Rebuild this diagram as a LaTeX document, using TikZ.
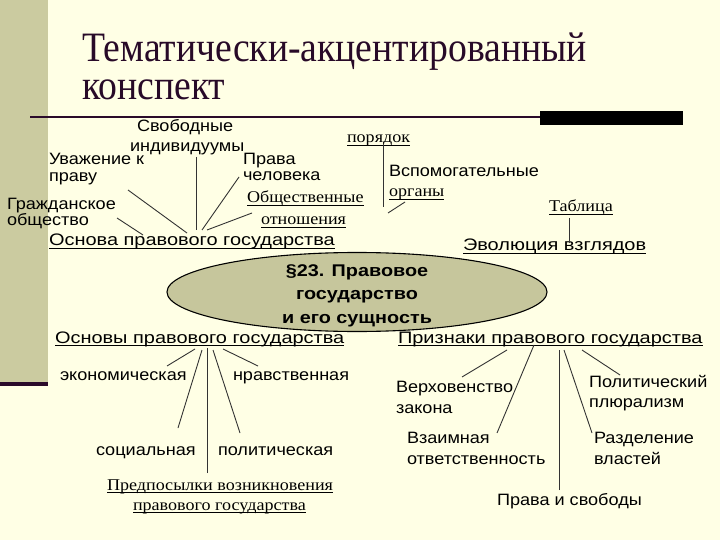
\documentclass[tikz,border=0pt]{standalone}
\usepackage{fontspec}
\setmainfont{Liberation Serif}
\setsansfont{Liberation Sans}
\newfontfamily\hsans[FakeStretch=1.2]{Liberation Sans}
\newfontfamily\lsans[FakeStretch=1.1]{Liberation Sans}
\newfontfamily\bsans[FakeStretch=1.17]{Liberation Sans}
\newfontfamily\rserif[FakeStretch=1.1]{Liberation Serif}
\newfontfamily\tserif[FakeStretch=0.9]{Liberation Serif}
\usetikzlibrary{shapes.geometric}
\definecolor{bgc}{RGB}{255,255,229}
\definecolor{barc}{RGB}{203,203,160}
\definecolor{darkc}{RGB}{42,10,42}
\definecolor{ellc}{RGB}{198,198,156}
\definecolor{titlec}{RGB}{40,10,40}
\begin{document}
\begin{tikzpicture}[x=1bp,y=-1bp,
  sl/.style={font=\lsans\fontsize{16.5}{19}\selectfont, anchor=base west, inner sep=0pt, outer sep=0pt},
  hl/.style={font=\hsans\fontsize{16.7}{19}\selectfont, anchor=base west, inner sep=0pt, outer sep=0pt},
  rl/.style={font=\rserif\fontsize{16.5}{19}\selectfont, anchor=base west, inner sep=0pt, outer sep=0pt},
  tl/.style={font=\tserif\fontsize{42}{42}\selectfont, text=titlec, anchor=base west, inner sep=0pt},
  ul/.style={append after command={([yshift=-2.8bp]\tikzlastnode.base west) edge[line width=1.3bp] ([yshift=-2.8bp]\tikzlastnode.base east)}},
  conn/.style={draw=black!80, line width=0.9bp}]
\useasboundingbox (0,0) rectangle (720,540);
\fill[bgc] (0,0) rectangle (720,540);
\fill[barc] (0,0) rectangle (48,382);
\fill[darkc] (0,382) rectangle (48,386);
\fill[darkc] (30,116) rectangle (540,118.5);
\fill[black] (540,111) rectangle (683,125.5);
% title
\node[tl] (t1) at (82,62) {Тематически-акцентированный};
\node[tl] (t2) at (82,100) {конспект};
% hub
\node[draw=black, line width=1.1bp, fill=ellc, ellipse, minimum width=380bp, minimum height=79bp, inner sep=0pt] (hub) at (357,292) {};
\node[font=\bsans\bfseries\fontsize{17}{23.5}\selectfont, align=center, inner sep=0pt] (hubt) at (357,295.5) {§23. Правовое\\государство\\и его сущность};
% top-left cluster
\node[sl] (svob1) at (137,132) {Свободные};
\node[sl] (svob2) at (130,152) {индивидуумы};
\node[sl] (uv1) at (49,165) {Уважение к};
\node[sl] (uv2) at (49,182) {праву};
\node[sl] (pr1) at (243,165) {Права};
\node[sl] (pr2) at (243,181) {человека};
\node[sl] (gr1) at (7,210) {Гражданское};
\node[sl] (gr2) at (7,225.5) {общество};
\node[rl,ul] (ob1) at (247,203) {Общественные};
\node[rl,ul] (ob2) at (261,225) {отношения};
\node[hl,ul] (osnova) at (49,246) {Основа правового государства};
% top-right
\node[rl,ul] (por) at (347,143) {порядок};
\node[sl] (vsp) at (389,177) {Вспомогательные};
\node[rl,ul] (org) at (389,197) {органы};
\node[rl,ul] (tabl) at (549,212) {Таблица};
\node[hl,ul] (evol) at (463,251) {Эволюция взглядов};
% bottom-left
\node[hl,ul] (osnovy) at (55,343) {Основы правового государства};
\node[sl] (ekon) at (60,380) {экономическая};
\node[sl] (nrav) at (233,380) {нравственная};
\node[sl] (soc) at (96,455) {социальная};
\node[sl] (pol) at (218,455) {политическая};
\node[rl,ul] (pred1) at (107,490) {Предпосылки возникновения};
\node[rl,ul] (pred2) at (133,510) {правового государства};
% bottom-right
\node[hl,ul] (priz) at (398,343) {Признаки правового государства};
\node[sl] (verh1) at (396,392) {Верховенство};
\node[sl] (verh2) at (396,413) {закона};
\node[sl] (polit1) at (589,387) {Политический};
\node[sl] (polit2) at (589,407) {плюрализм};
\node[sl] (vz1) at (407,443) {Взаимная};
\node[sl] (vz2) at (407,464) {ответственность};
\node[sl] (razd1) at (594,443) {Разделение};
\node[sl] (razd2) at (594,464) {властей};
\node[sl] (prsv) at (497,505) {Права и свободы};
% connector end points
\coordinate (a1) at (117,218); \coordinate (b1) at (143,235);
\coordinate (a2) at (128,190); \coordinate (b2) at (187,233);
\coordinate (a3) at (196,157); \coordinate (b3) at (196,230);
\coordinate (a4) at (239,177); \coordinate (b4) at (202,230);
\coordinate (a5) at (252,213); \coordinate (b5) at (207,230);
\coordinate (a6) at (383,145); \coordinate (b6) at (383,207);
\coordinate (a7) at (405,202); \coordinate (b7) at (388,213);
\coordinate (a8) at (569,218); \coordinate (b8) at (569,243);
\coordinate (a9) at (167,366); \coordinate (b9) at (195,349);
\coordinate (a10) at (258,366); \coordinate (b10) at (223,349);
\coordinate (a11) at (178,428); \coordinate (b11) at (202,350);
\coordinate (a12) at (240,433); \coordinate (b12) at (213,350);
\coordinate (a13) at (207,473); \coordinate (b13) at (207,348);
\coordinate (a14) at (462,377); \coordinate (b14) at (507,350);
\coordinate (a15) at (497,433); \coordinate (b15) at (534,345);
\coordinate (a16) at (559,490); \coordinate (b16) at (559,350);
\coordinate (a17) at (592,433); \coordinate (b17) at (564,350);
\coordinate (a18) at (620,375); \coordinate (b18) at (582,350);
\foreach \i in {1,...,18} {\draw[conn] (a\i) -- (b\i);}
\end{tikzpicture}
\end{document}
